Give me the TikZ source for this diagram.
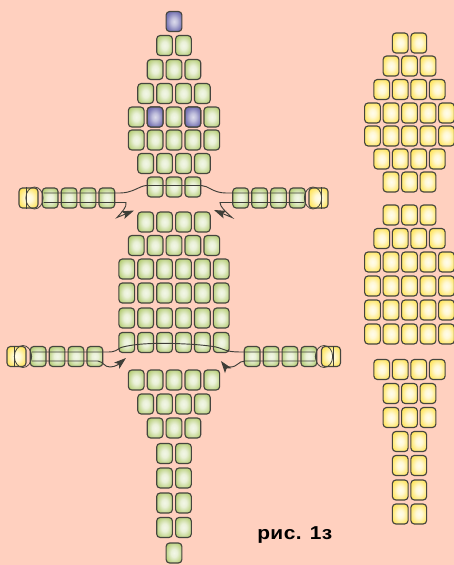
\documentclass[tikz,border=0pt]{standalone}
\usepackage{fontspec}
\setmainfont{Liberation Sans}
\newfontfamily\capfont[LetterSpace=2]{Liberation Sans}
\usetikzlibrary{arrows.meta,calc,shapes.geometric}
\definecolor{bg}{HTML}{FFD0BF}
\definecolor{gbead}{HTML}{A6C35A}
\definecolor{pbead}{HTML}{5F5CA6}
\definecolor{ybead}{HTML}{FFE040}
\definecolor{edge}{HTML}{45453E}
\pgfdeclareradialshading{gshade}{\pgfpoint{0bp}{0bp}}{color(0bp)=(white!86!gbead); color(10bp)=(white!76!gbead); color(24bp)=(white!32!gbead); color(36bp)=(gbead); color(100bp)=(gbead)}
\pgfdeclareradialshading{pshade}{\pgfpoint{0bp}{0bp}}{color(0bp)=(white!78!pbead); color(10bp)=(white!60!pbead); color(24bp)=(white!20!pbead); color(36bp)=(pbead); color(100bp)=(pbead)}
\pgfdeclareradialshading{yshade}{\pgfpoint{0bp}{0bp}}{color(0bp)=(white!90!ybead); color(10bp)=(white!78!ybead); color(24bp)=(white!30!ybead); color(36bp)=(ybead); color(100bp)=(ybead)}
\tikzset{
  x=0.75pt,y=-0.75pt,
  bead/.style={draw=edge,line width=0.85pt,rounded corners=2.6pt,minimum width=11.8pt,minimum height=15pt,inner sep=0pt,shape=rectangle},
  gb/.style={bead,shading=gshade},
  pb/.style={bead,shading=pshade},
  yb/.style={bead,shading=yshade},
  thread/.style={draw=edge!90!black,line width=0.7pt},
  ring/.style={draw=edge,line width=0.6pt,shape=ellipse,minimum width=13pt,minimum height=16.5pt,inner sep=0pt},
  arrowthread/.style={thread,-{Stealth[length=9pt,width=6pt,inset=2pt]}},
  caption/.style={font=\capfont\bfseries\fontsize{14pt}{16pt}\selectfont,inner sep=0pt,xscale=1.12,transform shape}
}
% name, style, centre x, y, count, pitch
\newcommand{\beadrow}[6]{%
  \foreach \i in {1,...,#5}{%
    \node[#2] (#1-\i) at ({#3+(\i-(#5+1)/2)*#6},#4) {};
  }%
}
\begin{document}
\begin{tikzpicture}
\useasboundingbox[fill=bg] (0,0) rectangle (454,565);
% main figure
\node[pb] (m1-1) at (174,21.5) {};
\beadrow{m2}{gb}{174}{45.5}{2}{18.9}
\beadrow{m3}{gb}{174}{69.5}{3}{18.9}
\beadrow{m4}{gb}{174}{93.5}{4}{18.9}
\beadrow{m5}{gb}{174}{117}{5}{18.9}
\node[pb] at (m5-2) {};
\node[pb] at (m5-4) {};
\beadrow{m6}{gb}{174}{140}{5}{18.9}
\beadrow{m7}{gb}{174}{163.5}{4}{18.9}
\beadrow{m8}{gb}{174}{187}{3}{18.9}
\beadrow{m9}{gb}{174}{222}{4}{18.9}
\beadrow{m10}{gb}{174}{245.5}{5}{18.9}
\beadrow{m11}{gb}{174}{269}{6}{18.9}
\beadrow{m12}{gb}{174}{293}{6}{18.9}
\beadrow{m13}{gb}{174}{318}{6}{18.9}
\beadrow{m14}{gb}{174}{342.5}{6}{18.9}
\beadrow{m15}{gb}{174}{380}{5}{18.9}
\beadrow{m16}{gb}{174}{404}{4}{18.9}
\beadrow{m17}{gb}{174}{428}{3}{18.9}
\beadrow{m18}{gb}{174}{453.5}{2}{18.9}
\beadrow{m19}{gb}{174}{478}{2}{18.9}
\beadrow{m20}{gb}{174}{503}{2}{18.9}
\beadrow{m21}{gb}{174}{527.5}{2}{18.9}
\node[gb] (m22-1) at (174,553) {};
% side strands
\beadrow{ul}{gb}{78.5}{198}{4}{18.9}
\beadrow{ur}{gb}{269}{198}{4}{18.9}
\beadrow{ll}{gb}{66.5}{356.5}{4}{18.9}
\beadrow{lr}{gb}{280.5}{356.5}{4}{18.9}
\node[yb,minimum width=14.2pt] (uly) at (28.5,198) {};
\node[yb,minimum width=14.2pt] (ury) at (318.5,198) {};
\node[yb,minimum width=14.2pt] (lly) at (16.5,356.5) {};
\node[yb,minimum width=14.2pt] (lry) at (331,356.5) {};
\draw[thread] (uly.south west) ++(8,0) coordinate (a1) -- ($(uly.north west)+(8,0)$);
\draw[thread] (ury.south east) ++(-7,0) coordinate (a2) -- ($(ury.north east)+(-7,0)$);
\draw[thread] (lly.south west) ++(8,0) coordinate (a3) -- ($(lly.north west)+(8,0)$);
\draw[thread] (lry.south east) ++(-8,0) coordinate (a4) -- ($(lry.north east)+(-8,0)$);
% right columns
\beadrow{a1}{yb}{409.5}{43}{2}{18.5}
\beadrow{a2}{yb}{409.5}{66}{3}{18.5}
\beadrow{a3}{yb}{409.5}{89.5}{4}{18.5}
\beadrow{a4}{yb}{409.5}{113}{5}{18.5}
\beadrow{a5}{yb}{409.5}{136}{5}{18.5}
\beadrow{a6}{yb}{409.5}{159}{4}{18.5}
\beadrow{a7}{yb}{409.5}{182}{3}{18.5}
\beadrow{b1}{yb}{409.5}{215}{3}{18.5}
\beadrow{b2}{yb}{409.5}{238.5}{4}{18.5}
\beadrow{b3}{yb}{409.5}{262}{5}{18.5}
\beadrow{b4}{yb}{409.5}{286}{5}{18.5}
\beadrow{b5}{yb}{409.5}{310}{5}{18.5}
\beadrow{b6}{yb}{409.5}{334}{5}{18.5}
\beadrow{c1}{yb}{409.5}{369.5}{4}{18.5}
\beadrow{c2}{yb}{409.5}{393.5}{3}{18.5}
\beadrow{c3}{yb}{409.5}{417.5}{3}{18.5}
\beadrow{c4}{yb}{409.5}{441.5}{2}{18.5}
\beadrow{c5}{yb}{409.5}{465.5}{2}{18.5}
\beadrow{c6}{yb}{409.5}{490}{2}{18.5}
\beadrow{c7}{yb}{409.5}{514}{2}{18.5}
% rings
\node[ring] (r1) at (34.5,198) {};
\node[ring] (r2) at (313,198) {};
\node[ring] (r3) at (23,356.5) {};
\node[ring] (r4) at (324,356.5) {};
% threads, upper strands
\path (r1.east |- 0,193) coordinate (t1) (r2.west |- 0,193) coordinate (t2)
      (r1.east |- 0,202.5) coordinate (t3) (r2.west |- 0,202.5) coordinate (t4);
\coordinate (h1) at (117,217.5);
\coordinate (i1) at (134,210.5);
\coordinate (h2) at (232,217.5);
\coordinate (i2) at (214,210);
\draw[thread] (t1) -- (120,193) .. controls (133,193) and (140,185.5) .. (m8-1.west |- 0,185.5)
  -- (m8-3.east |- 0,185.5) .. controls (208,185.5) and (213,193) .. (226,193) -- (t2);
\draw[arrowthread] (t3) -- (126,202.5) .. controls (127,207) and (122,212) .. (h1) -- (i1);
\draw[arrowthread] (t4) -- (220,202.5) .. controls (220,207) and (226,212) .. (h2) -- (i2);
% threads, lower strands
\path (r3.east |- 0,352) coordinate (t5) (r4.west |- 0,352) coordinate (t6)
      (r3.east |- 0,361) coordinate (t7) (r4.west |- 0,361) coordinate (t8);
\coordinate (i3) at (126,358);
\coordinate (i4) at (221,361);
\draw[thread] (t5) -- (108,352) .. controls (116,352) and (116,350) .. (121,347.5)
  .. controls (135,343.5) and (155,343) .. (174,343.5) .. controls (190,344) and (205,345) .. (216,347)
  .. controls (224,349) and (226,352) .. (240,352) -- (t6);
\draw[arrowthread] (t7) -- (98,361) .. controls (104,362) and (104,367) .. (110,367) .. controls (116,367) and (120,363) .. (i3);
\draw[arrowthread] (t8) -- (245,361) .. controls (238,361) and (238,367) .. (230,367) .. controls (227,367) and (224,365) .. (i4);
% caption
\node[caption,anchor=base west] (cap) at (257,539) {рис. 1з};
\end{tikzpicture}
\end{document}
